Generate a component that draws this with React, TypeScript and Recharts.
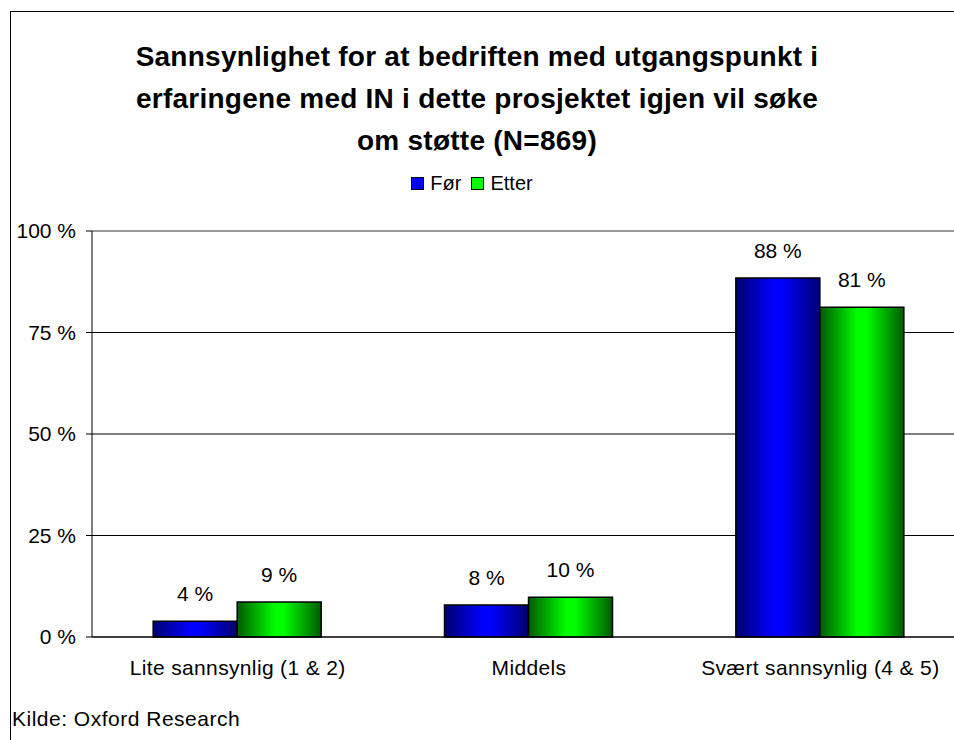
import React from "react";
import { BarChart, Bar, XAxis, YAxis, CartesianGrid, ReferenceLine, LabelList } from "recharts";

const categories = ["Lite sannsynlig (1 & 2)", "Middels", "Svært sannsynlig (4 & 5)"];
const forValues = [3.9, 7.9, 88.4];
const etterValues = [8.6, 9.8, 81.2];
const yTicks = [0, 25, 50, 75, 100];
const titleLines = [
  "Sannsynlighet for at bedriften med utgangspunkt i",
  "erfaringene med IN i dette prosjektet igjen vil søke",
  "om støtte (N=869)",
];

const data = categories.map((name, i) => ({ name, for: forValues[i], etter: etterValues[i] }));

const FONT = "'Liberation Sans', Arial, sans-serif";

export default function App() {
  const pct = (v: any) => `${Math.round(Number(v))} %`;
  return (
    <div style={{ position: "relative", width: 954, height: 740, overflow: "hidden", background: "#fff", fontFamily: FONT }}>
      <style>{"body{margin:0}"}</style>
      <div style={{ position: "absolute", left: 10, top: 11, width: 980, height: 780, border: "1px solid #000", boxSizing: "border-box" }} />
      <div style={{ position: "absolute", left: 10, top: 36, width: 934, textAlign: "center", fontWeight: "bold", fontSize: 28, letterSpacing: 0.25, lineHeight: "42px", color: "#000" }}>
        {titleLines.map(l => <div key={l}>{l}</div>)}
      </div>
      <div style={{ position: "absolute", left: 0, top: 172, width: 944, display: "flex", justifyContent: "center", alignItems: "center", fontSize: 20, color: "#000" }}>
        <span style={{ display: "inline-block", width: 11, height: 11, border: "1px solid #000", background: "#0000ff", marginRight: 6 }} />
        <span style={{ marginRight: 10 }}>Før</span>
        <span style={{ display: "inline-block", width: 11, height: 11, border: "1px solid #000", background: "#00ff00", marginRight: 6 }} />
        <span>Etter</span>
      </div>
      <div style={{ position: "absolute", left: 0, top: 0 }}>
        <BarChart width={966} height={740} data={data} margin={{ top: 231, right: 0, left: 0, bottom: 0 }} barCategoryGap="21%" barGap={0}>
          <defs>
            <linearGradient id="gBlue" x1="0" y1="0" x2="1" y2="0">
              <stop offset="0" stopColor="#000070" />
              <stop offset="0.45" stopColor="#0000ff" />
              <stop offset="0.55" stopColor="#0000ff" />
              <stop offset="1" stopColor="#000070" />
            </linearGradient>
            <linearGradient id="gGreen" x1="0" y1="0" x2="1" y2="0">
              <stop offset="0" stopColor="#005a00" />
              <stop offset="0.45" stopColor="#00ff00" />
              <stop offset="0.55" stopColor="#00ff00" />
              <stop offset="1" stopColor="#005a00" />
            </linearGradient>
          </defs>
          <CartesianGrid vertical={false} stroke="#000" strokeWidth={1} />
          <ReferenceLine y={100} stroke="#999" strokeWidth={2} />
          <XAxis dataKey="name" height={103} tickLine={false} axisLine={{ stroke: "#000" }} tickMargin={17}
            tick={{ fill: "#000", fontSize: 21, fontFamily: FONT, letterSpacing: 0.35 }} interval={0} />
          <YAxis width={92} domain={[0, 100]} ticks={yTicks} tickFormatter={(v: number) => `${v} %`} tickSize={6} tickMargin={10}
            axisLine={{ stroke: "#000" }} tickLine={{ stroke: "#000" }} tick={{ fill: "#000", fontSize: 21, fontFamily: FONT }} />
          <Bar dataKey="for" fill="url(#gBlue)" stroke="#000" strokeWidth={1.5} isAnimationActive={false}>
            <LabelList dataKey="for" position="top" offset={20} formatter={pct} style={{ fill: "#000", fontSize: 21, fontFamily: FONT }} />
          </Bar>
          <Bar dataKey="etter" fill="url(#gGreen)" stroke="#000" strokeWidth={1.5} isAnimationActive={false}>
            <LabelList dataKey="etter" position="top" offset={20} formatter={pct} style={{ fill: "#000", fontSize: 21, fontFamily: FONT }} />
          </Bar>
        </BarChart>
      </div>
      <div style={{ position: "absolute", left: 12, top: 707, fontSize: 21, letterSpacing: 0.5, color: "#000" }}>Kilde: Oxford Research</div>
    </div>
  );
}
